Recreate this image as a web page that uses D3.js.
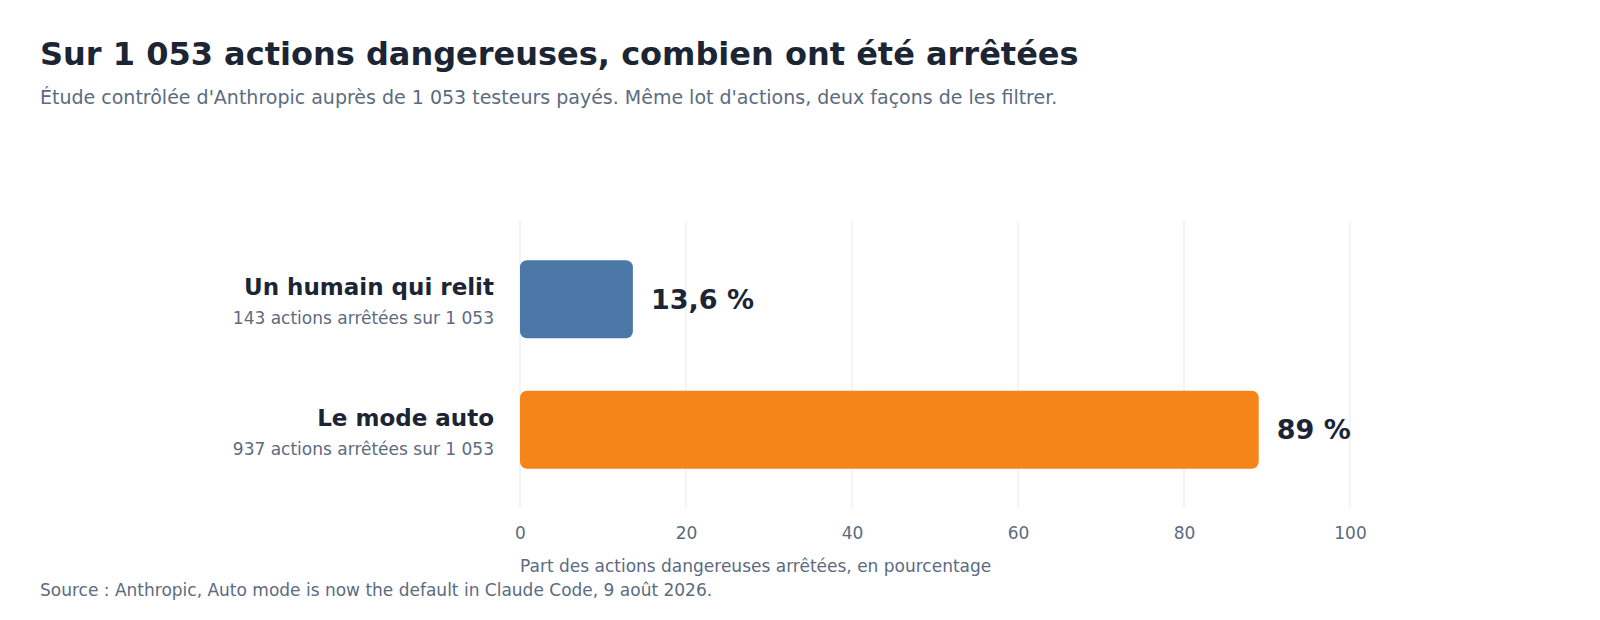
<!DOCTYPE html>
<html>
<head>
<meta charset="utf-8">
<script src="https://cdn.jsdelivr.net/npm/d3@7"></script>
<style>
  body { margin: 0; background: #fff; }
  text { font-family: "DejaVu Sans", sans-serif; }
</style>
</head>
<body>
<div id="root"></div>
<script>
const categories = ["Un humain qui relit", "Le mode auto"]
const subLabels = ["143 actions arrêtées sur 1 053", "937 actions arrêtées sur 1 053"]
const values = [13.6, 89]
const valueLabels = ["13,6 %", "89 %"]
const barColors = ["#4c78a8", "#f58518"]
const xTicks = [0, 20, 40, 60, 80, 100]

const data = categories.map((c, i) => ({ cat: c, sub: subLabels[i], value: values[i], label: valueLabels[i], color: barColors[i] }))

const width = 1600
const height = 620

const svg = d3.select("#root").append("svg")
  .attr("width", width)
  .attr("height", height)

// titles
svg.append("text")
  .attr("x", 40).attr("y", 65)
  .attr("fill", "#1b2533")
  .style("font-size", "32px").style("font-weight", "bold")
  .text("Sur 1 053 actions dangereuses, combien ont été arrêtées")

svg.append("text")
  .attr("x", 40).attr("y", 104)
  .attr("fill", "#5b6b80")
  .style("font-size", "19px")
  .text("Étude contrôlée d'Anthropic auprès de 1 053 testeurs payés. Même lot d'actions, deux façons de les filtrer.")

const xScale = d3.scaleLinear().domain([0, 100]).range([520, 1350])
const yScale = d3.scaleBand().domain(categories).range([221, 508]).paddingInner(0.402).paddingOuter(0.3)

// grid
svg.append("g").selectAll("line")
  .data(xTicks)
  .join("line")
  .attr("x1", d => xScale(d)).attr("x2", d => xScale(d))
  .attr("y1", 221).attr("y2", 508)
  .attr("stroke", "#e6e8eb").attr("stroke-width", 1)

// axis
const xAxis = svg.append("g")
  .attr("transform", "translate(0,508)")
  .call(d3.axisBottom(xScale).tickValues(xTicks).tickSize(0).tickPadding(19))
xAxis.select(".domain").remove()
xAxis.selectAll("text")
  .attr("fill", "#5b6b80")
  .style("font-size", "17px")
  .style("font-family", "DejaVu Sans, sans-serif")

svg.append("text")
  .attr("x", 520).attr("y", 572)
  .attr("fill", "#5b6b80")
  .style("font-size", "17px")
  .text("Part des actions dangereuses arrêtées, en pourcentage")

// bars
svg.append("g").selectAll("rect")
  .data(data)
  .join("rect")
  .attr("x", xScale(0))
  .attr("y", d => yScale(d.cat))
  .attr("width", d => xScale(d.value) - xScale(0))
  .attr("height", yScale.bandwidth())
  .attr("rx", 7)
  .attr("fill", d => d.color)

// value labels
svg.append("g").selectAll("text")
  .data(data)
  .join("text")
  .attr("x", d => xScale(d.value) + 18)
  .attr("y", d => yScale(d.cat) + yScale.bandwidth() / 2)
  .attr("dy", "0.35em")
  .attr("fill", "#1b2533")
  .style("font-size", "27px").style("font-weight", "bold")
  .text(d => d.label)

// category labels
const catG = svg.append("g").selectAll("g")
  .data(data)
  .join("g")
  .attr("transform", d => `translate(494,${yScale(d.cat) + yScale.bandwidth() / 2})`)

catG.append("text")
  .attr("text-anchor", "end")
  .attr("y", -4)
  .attr("fill", "#1b2533")
  .style("font-size", "23px").style("font-weight", "bold")
  .text(d => d.cat)

catG.append("text")
  .attr("text-anchor", "end")
  .attr("y", 25)
  .attr("fill", "#5b6b80")
  .style("font-size", "17px")
  .text(d => d.sub)

// source
svg.append("text")
  .attr("x", 40).attr("y", 596)
  .attr("fill", "#5b6b80")
  .style("font-size", "17px")
  .text("Source : Anthropic, Auto mode is now the default in Claude Code, 9 août 2026.")
</script>
</body>
</html>
